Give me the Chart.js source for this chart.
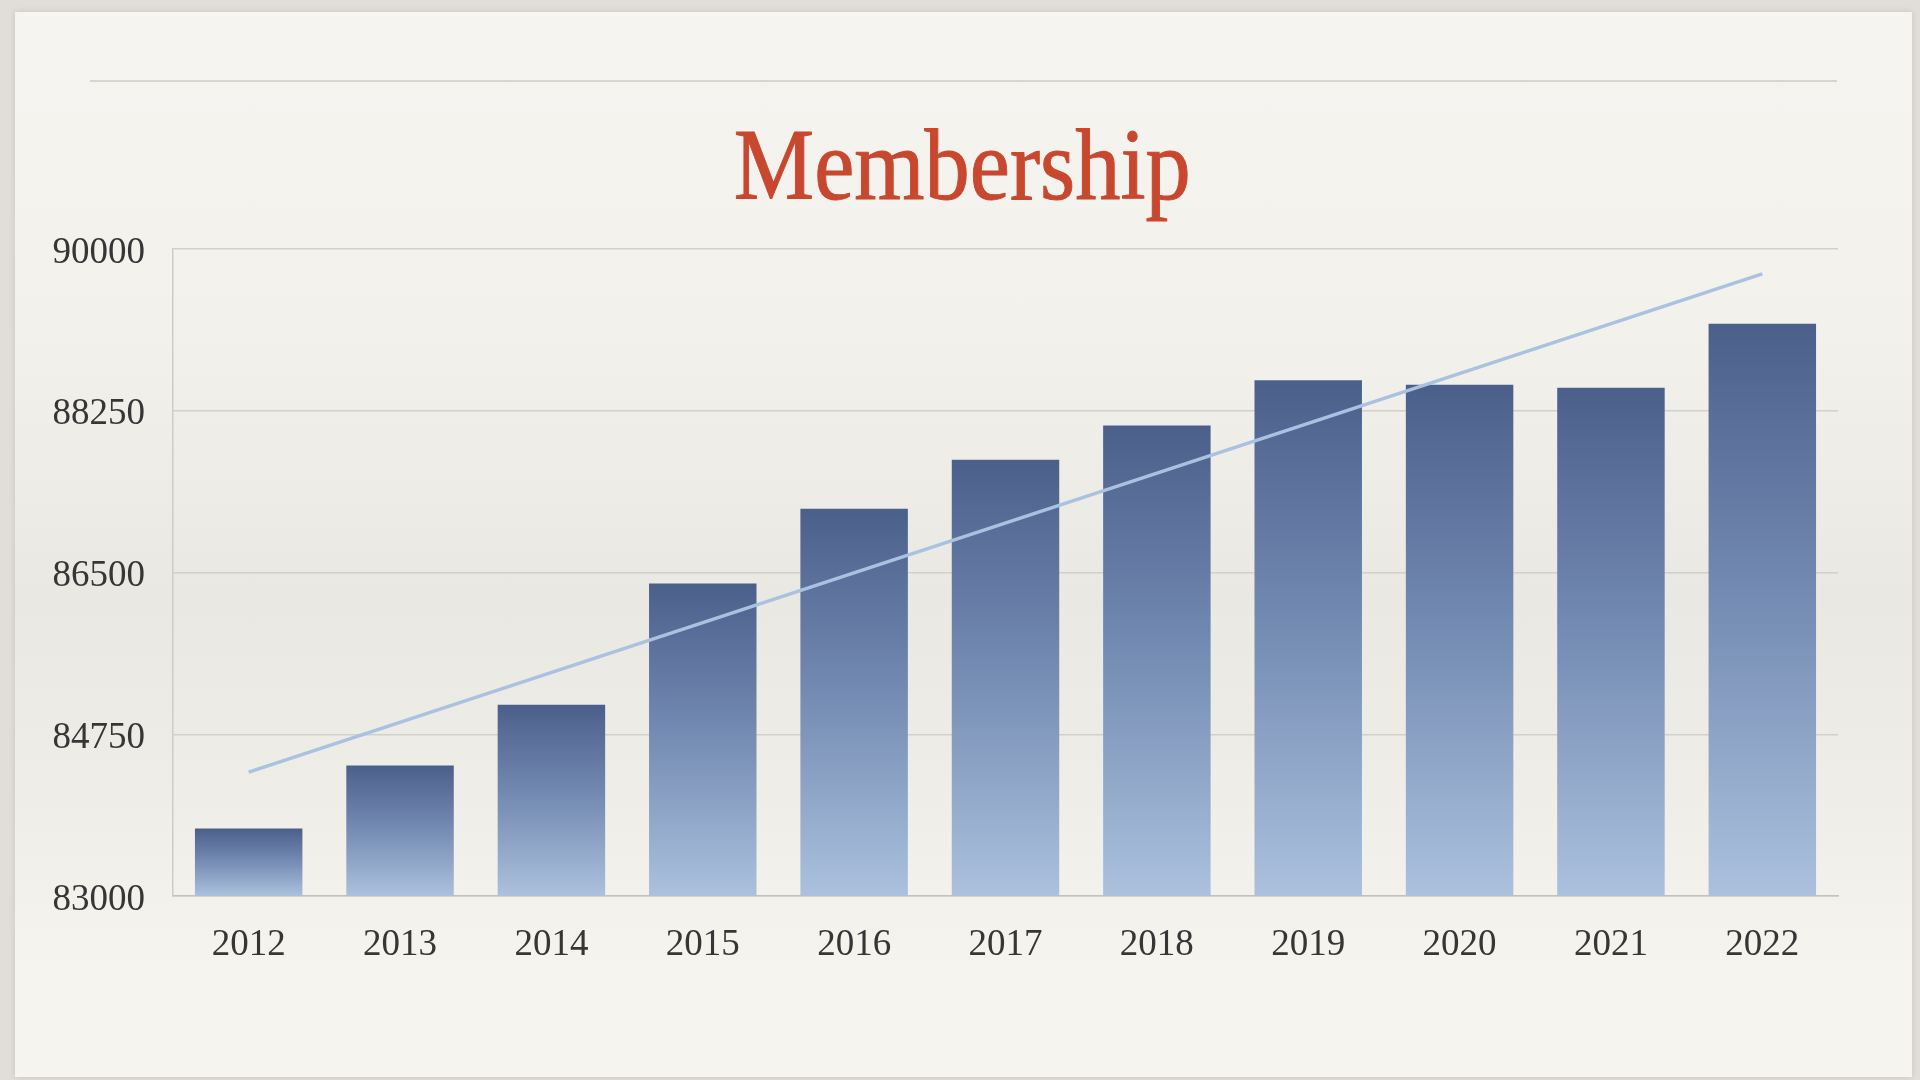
<!DOCTYPE html>
<html>
<head>
<meta charset="utf-8">
<script src="https://cdn.jsdelivr.net/npm/chart.js@4/dist/chart.umd.min.js"></script>
<style>
  html, body { margin: 0; padding: 0; width: 1920px; height: 1080px; overflow: hidden; background: #e1ded9; }
  #slide { position: absolute; left: 15px; top: 12px; width: 1897px; height: 1065px;
    background: linear-gradient(180deg, #f6f4f0 0%, #f3f1ec 30%, #eae8e3 55%, #eeece7 70%, #f5f3ee 88%, #f6f4ef 100%);
    box-shadow: 0 0 6px rgba(0,0,0,0.12); }
  #rule { position: absolute; left: 90px; top: 80px; width: 1747px; height: 2px; background: #d8d5cf; }
  #title { position: absolute; left: 0; width: 1924px; top: 115px; text-align: center;
    font-family: "Liberation Serif", "Times New Roman", serif; font-size: 101px; line-height: 100px;
    color: #c8482f; white-space: nowrap; -webkit-text-stroke: 1px #c8482f; }
  #title span { display: inline-block; transform: scaleX(0.895); transform-origin: center; }
  #wrap { position: absolute; left: 0; top: 0; width: 1920px; height: 1080px; }
</style>
</head>
<body>
<div id="slide"></div>
<div id="rule"></div>
<div id="title"><span>Membership</span></div>
<div id="wrap"><canvas id="c" width="1920" height="1080"></canvas></div>
<script>
const categories = ["2012","2013","2014","2015","2016","2017","2018","2019","2020","2021","2022"];
const membership = [83730, 84413, 85070, 86380, 87190, 87720, 88090, 88580, 88530, 88500, 89190];
const trendLine = [84340, null, null, null, null, null, null, null, null, null, 89730];
const yTicks = [83000, 84750, 86500, 88250, 90000];
const yMin = 83000, yMax = 90000;

function barGradient(c) {
  const chart = c.chart;
  const area = chart.chartArea;
  if (!area || c.raw == null) return '#6f86b0';
  const ys = chart.scales.y;
  const top = ys.getPixelForValue(c.raw);
  const bot = ys.getPixelForValue(yMin);
  const g = chart.ctx.createLinearGradient(0, top, 0, bot);
  g.addColorStop(0, '#4b5f8b');
  g.addColorStop(0.45, '#7188b0');
  g.addColorStop(1, '#abc1de');
  return g;
}

new Chart(document.getElementById('c'), {
  data: {
    labels: categories,
    datasets: [
      {
        type: 'line',
        data: trendLine,
        spanGaps: true,
        borderColor: '#a9c2df',
        borderWidth: 3.5,
        pointRadius: 0,
        tension: 0,
        order: 0
      },
      {
        type: 'bar',
        data: membership,
        backgroundColor: barGradient,
        borderWidth: 0,
        categoryPercentage: 1,
        barPercentage: 0.71,
        order: 1
      }
    ]
  },
  options: {
    responsive: false,
    animation: false,
    devicePixelRatio: 1,
    layout: { padding: { left: 0, right: 82, top: 249, bottom: 0 } },
    plugins: { legend: { display: false }, tooltip: { enabled: false }, title: { display: false } },
    scales: {
      x: {
        grid: { display: false, drawTicks: false },
        border: { display: true, color: '#c4c1bb', width: 1.5 },
        ticks: { color: '#363636', padding: 27, font: { family: 'Liberation Serif', size: 37 } },
        afterFit: (s) => { s.height = 184; }
      },
      y: {
        min: yMin, max: yMax,
        afterBuildTicks: (s) => { s.ticks = yTicks.map(v => ({ value: v })); },
        grid: { color: '#d3d0ca', lineWidth: 1.5, drawTicks: false },
        border: { display: true, color: '#cfccc6', width: 1.5 },
        ticks: { color: '#363636', padding: 28, labelOffset: 4,
          font: { family: 'Liberation Serif', size: 37 },
          callback: (v) => String(v) },
        afterFit: (s) => { s.width = 173; }
      }
    }
  }
});
</script>
</body>
</html>
